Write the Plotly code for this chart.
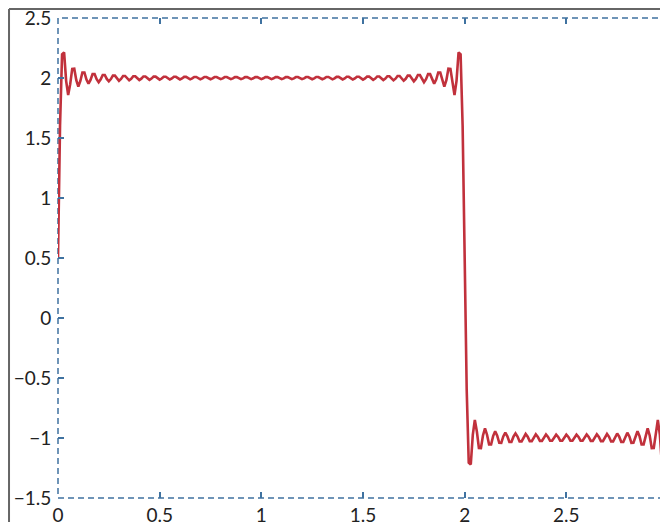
import numpy as np
import plotly.graph_objects as go

# Square wave definition (one period)
period = 3.0
high_level = 2.0
low_level = -1.0
switch_at = 2.0
n_harmonics = 60
sample_step = 0.01

x_ticks = [0, 0.5, 1, 1.5, 2, 2.5, 3]
x_tick_labels = ["0", "0.5", "1", "1.5", "2", "2.5", "3"]
y_ticks = [-1.5, -1, -0.5, 0, 0.5, 1, 1.5, 2, 2.5]
y_tick_labels = ["\u22121.5", "\u22121", "\u22120.5", "0", "0.5", "1", "1.5", "2", "2.5"]

# Partial Fourier sum of the square wave
x = np.arange(0, period + sample_step / 2, sample_step)
mean = (high_level * switch_at + low_level * (period - switch_at)) / period
jump = high_level - low_level
y = np.full_like(x, mean)
w = 2 * np.pi / period
for n in range(1, n_harmonics + 1):
    s = np.sin(w * n * switch_at)
    c = np.cos(w * n * switch_at)
    a_n = jump / (np.pi * n) * s
    b_n = jump / (np.pi * n) * (1 - c)
    y += a_n * np.cos(w * n * x) + b_n * np.sin(w * n * x)

fig = go.Figure()
fig.add_trace(go.Scatter(x=x, y=y, mode="lines",
                         line=dict(color="#C1313C", width=2.6),
                         hoverinfo="skip", showlegend=False))

tick_col = "#3f72a0"
axis_common = dict(showgrid=False, zeroline=False, ticks="inside", ticklen=6,
                   tickwidth=1.5, tickcolor=tick_col, mirror="ticks",
                   showline=True, linecolor="rgba(0,0,0,0)",
                   tickfont=dict(family="Lato", size=19, color="#222"),
                   ticklabeloverflow="allow",
                   automargin=False)

fig.update_xaxes(range=[0, 3], tickvals=x_ticks, ticktext=x_tick_labels, **axis_common)
fig.update_yaxes(range=[-1.5, 2.5], tickvals=y_ticks, ticktext=y_tick_labels,
                 ticklabelstandoff=2, **axis_common)

# dashed frame
fig.add_shape(type="rect", xref="paper", yref="paper", x0=0, x1=1, y0=0, y1=1,
              line=dict(color=tick_col, width=1.5, dash="6px,4px"), layer="below")
# outer solid gray frame (left and top)
fig.add_shape(type="line", xref="paper", yref="paper", x0=-0.0803, x1=-0.0803,
              y0=-0.1, y1=1.019, line=dict(color="#666", width=2))
fig.add_shape(type="line", xref="paper", yref="paper", x0=-0.0803, x1=1.05,
              y0=1.019, y1=1.019, line=dict(color="#666", width=2))

fig.update_layout(width=660, height=514,
                  margin=dict(l=50, r=0, t=10, b=24),
                  paper_bgcolor="white", plot_bgcolor="white")

fig.write_html("out.html")
